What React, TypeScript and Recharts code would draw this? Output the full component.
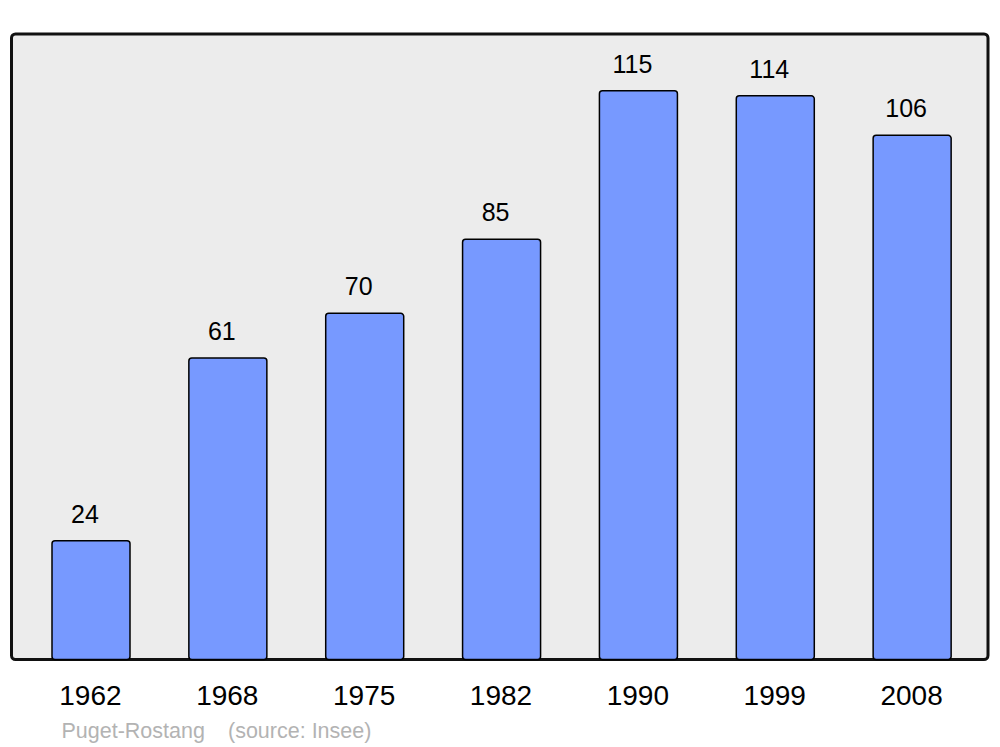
import React from 'react';
import { BarChart, Bar, XAxis, YAxis, LabelList } from 'recharts';

const years = ['1962', '1968', '1975', '1982', '1990', '1999', '2008'];
const population = [24, 61, 70, 85, 115, 114, 106];
const commune = 'Puget-Rostang';
const source = '(source: Insee)';

const data = years.map((y, i) => ({ year: y, pop: population[i] }));

const FONT = '"Liberation Sans", Arial, sans-serif';

export default function App() {
  return (
    <div style={{ position: 'absolute', left: 0, top: 0, width: 1000, height: 747, background: '#ffffff' }}>
      <svg width={1000} height={747} style={{ position: 'absolute', left: 0, top: 0 }}>
        <rect x={11.5} y={34} width={976.5} height={625.5} rx={4} ry={4} fill="#ececec" stroke="#111111" strokeWidth={3} />
        <text x={61.5} y={738} fontFamily={FONT} fontSize={21.5} fill="#b3b3b3">{commune}</text>
        <text x={228} y={738} fontFamily={FONT} fontSize={21.5} fill="#b3b3b3">{source}</text>
      </svg>
      <div style={{ position: 'absolute', left: 0, top: 0 }}>
        <BarChart
          width={1000}
          height={747}
          data={data}
          margin={{ top: 34, right: 19, bottom: 0, left: 23 }}
          barCategoryGap={0}
        >
          <XAxis
            dataKey="year"
            height={87.5}
            axisLine={false}
            tickLine={false}
            tickSize={0}
            tickMargin={26}
            interval={0}
            tick={{ fill: '#000000', fontSize: 28, fontFamily: FONT, dx: -1 }}
          />
          <YAxis hide domain={[0, 126.5]} />
          <Bar
            dataKey="pop"
            fill="#7799ff"
            stroke="#000000"
            strokeWidth={1.5}
            barSize={78}
            radius={3}
            isAnimationActive={false}
          >
            <LabelList
              dataKey="pop"
              position="top"
              offset={18}
              dx={-6}
              fill="#000000"
              fontSize={25}
              fontFamily={FONT}
            />
          </Bar>
        </BarChart>
      </div>
    </div>
  );
}
